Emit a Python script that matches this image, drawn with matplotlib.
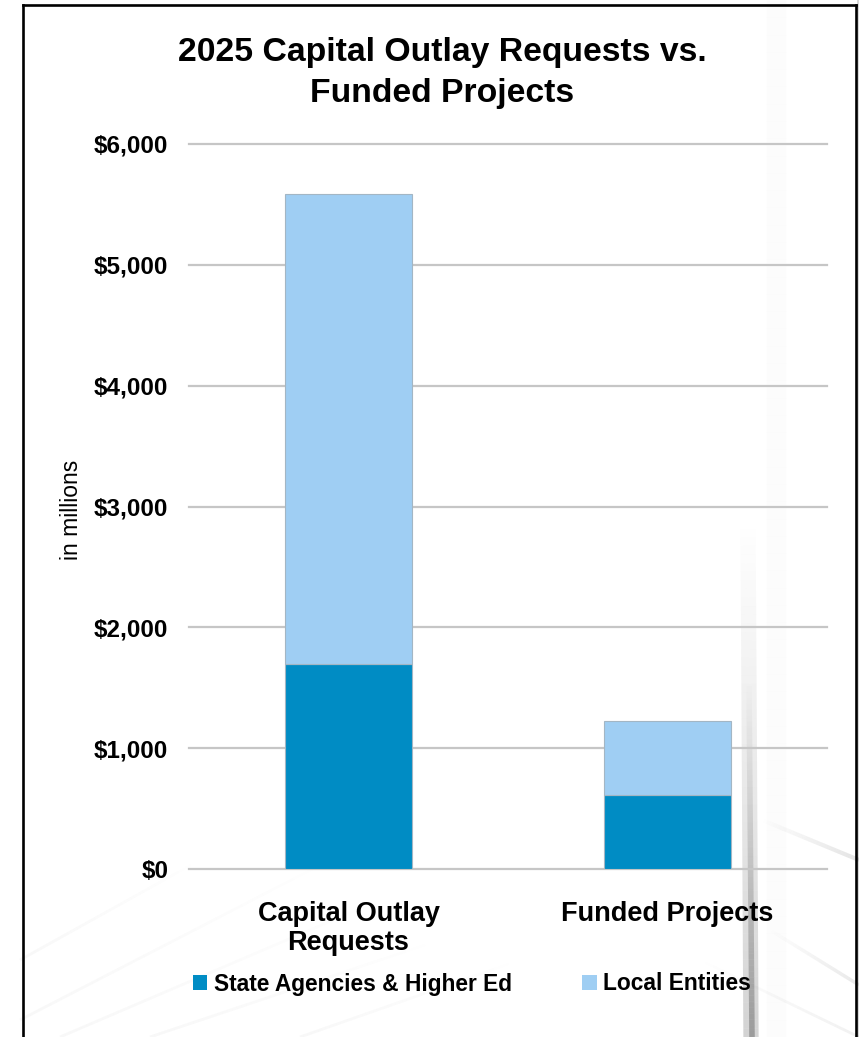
import numpy as np
import matplotlib
matplotlib.use("Agg")
import matplotlib.pyplot as plt
import matplotlib.colors as mcolors
from matplotlib.patches import Patch
from matplotlib.lines import Line2D
from matplotlib.collections import LineCollection
from matplotlib.ticker import FuncFormatter

# ---- data (millions of dollars) ----
categories = ["Capital Outlay\nRequests", "Funded Projects"]
state_higher_ed = [1700, 615]
local_entities = [3890, 607]
series_labels = ["State Agencies & Higher Ed", "Local Entities"]
y_ticks = [0, 1000, 2000, 3000, 4000, 5000, 6000]

DARK = "#008cc4"
LIGHT = "#9fcef3"
EDGE = "#a3b6c4"
GRID = "#c6c6c6"

plt.rcParams["font.family"] = ["Liberation Sans", "DejaVu Sans"]

W, H = 859, 1037
fig = plt.figure(figsize=(W / 100, H / 100), dpi=100)
fig.patch.set_facecolor("white")

# ---- faint slide backdrop (pixel space) ----
bg = fig.add_axes([0, 0, 1, 1], zorder=-5)
bg.set_xlim(0, W)
bg.set_ylim(H, 0)
bg.axis("off")


def streak(x0, y0, x1, y1, width, a0, a1, color="#5a5a5a", n=60):
    t = np.linspace(0, 1, n + 1)
    xs = x0 + (x1 - x0) * t
    ys = y0 + (y1 - y0) * t
    segs = [[(xs[i], ys[i]), (xs[i + 1], ys[i + 1])] for i in range(n)]
    cols = [mcolors.to_rgba(color, a) for a in np.linspace(a0, a1, n)]
    bg.add_collection(LineCollection(segs, colors=cols, linewidths=width,
                                     capstyle="butt"))


# vertical shadow on the right
streak(776, 0, 776, 1037, 14, 0.025, 0.02, color="#888888")
streak(748, 520, 751, 1037, 11, 0.0, 0.30, color="#707070")
streak(749, 680, 752, 1037, 4, 0.0, 0.42, color="#505050")
# diagonal strokes bottom right
streak(762, 820, 859, 860, 3, 0.0, 0.16)
streak(770, 930, 859, 985, 2.5, 0.0, 0.13)
streak(700, 960, 859, 1037, 2, 0.0, 0.08)
# diagonal strokes bottom left
for x0, y0, x1, y1 in [(20, 1020, 330, 860), (60, 1037, 380, 900),
                       (150, 1037, 440, 940), (20, 960, 200, 860),
                       (300, 1037, 520, 960)]:
    streak(x0, y0, x1, y1, 2, 0.05, 0.0, color="#777777")
# area outside the frame on the right
bg.fill_between([857, 859], 0, 1037, color="#d8d8d8", lw=0)

# ---- chart ----
ax = fig.add_axes([189 / W, (H - 869) / H, (827 - 189) / W, (869 - 144) / H])
ax.set_facecolor("none")
x = np.arange(len(categories))
bw = 0.4
ax.bar(x, state_higher_ed, bw, color=DARK, edgecolor=EDGE, linewidth=0.8,
       zorder=3, label=series_labels[0])
ax.bar(x, local_entities, bw, bottom=state_higher_ed, color=LIGHT,
       edgecolor=EDGE, linewidth=0.8, zorder=3, label=series_labels[1])

ax.set_xlim(-0.5, 1.5)
ax.set_ylim(0, 6000)
ax.set_yticks(y_ticks)
ax.yaxis.set_major_formatter(FuncFormatter(lambda v, p: f"${v:,.0f}"))
ax.yaxis.grid(True, color=GRID, linewidth=1.6)
ax.set_axisbelow(True)
for gl in ax.get_ygridlines():
    gl.set_clip_on(False)
for s in ax.spines.values():
    s.set_visible(False)
ax.tick_params(axis="both", length=0)
ax.tick_params(axis="y", pad=15, labelsize=17.5)
ax.tick_params(axis="x", pad=23, labelsize=19.5)
ax.set_xticks(x)
ax.set_xticklabels(categories, fontweight="bold", linespacing=1.15)
for lab in ax.get_yticklabels():
    lab.set_fontweight("bold")

# ---- texts ----
fig.text(442 / W, 1 - 61 / H, "2025 Capital Outlay Requests vs.", ha="center",
         va="baseline", fontsize=24.3, fontweight="bold")
fig.text(442 / W, 1 - 102 / H, "Funded Projects", ha="center",
         va="baseline", fontsize=24.3, fontweight="bold")
fig.text(71 / W, 1 - 510 / H, "in millions", rotation=90, ha="center",
         va="center", fontsize=16.5)

handles = [Patch(facecolor=DARK), Patch(facecolor=LIGHT)]
fig.legend(handles, series_labels, loc="center", ncol=2, frameon=False,
           bbox_to_anchor=(472 / W, 1 - 984 / H),
           prop={"size": 16.4, "weight": "bold"},
           handlelength=0.62, handleheight=0.62, handletextpad=0.3,
           columnspacing=3.1)

# ---- black frame ----
for xs_, ys_ in [([23, 23], [5, 1037]), ([856, 856], [5, 1037]), ([23, 856], [5, 5])]:
    fig.add_artist(Line2D([v / W for v in xs_], [1 - v / H for v in ys_],
                          color="black", linewidth=1.9, solid_capstyle="projecting"))

fig.savefig("out.png", dpi=100, facecolor="white")
